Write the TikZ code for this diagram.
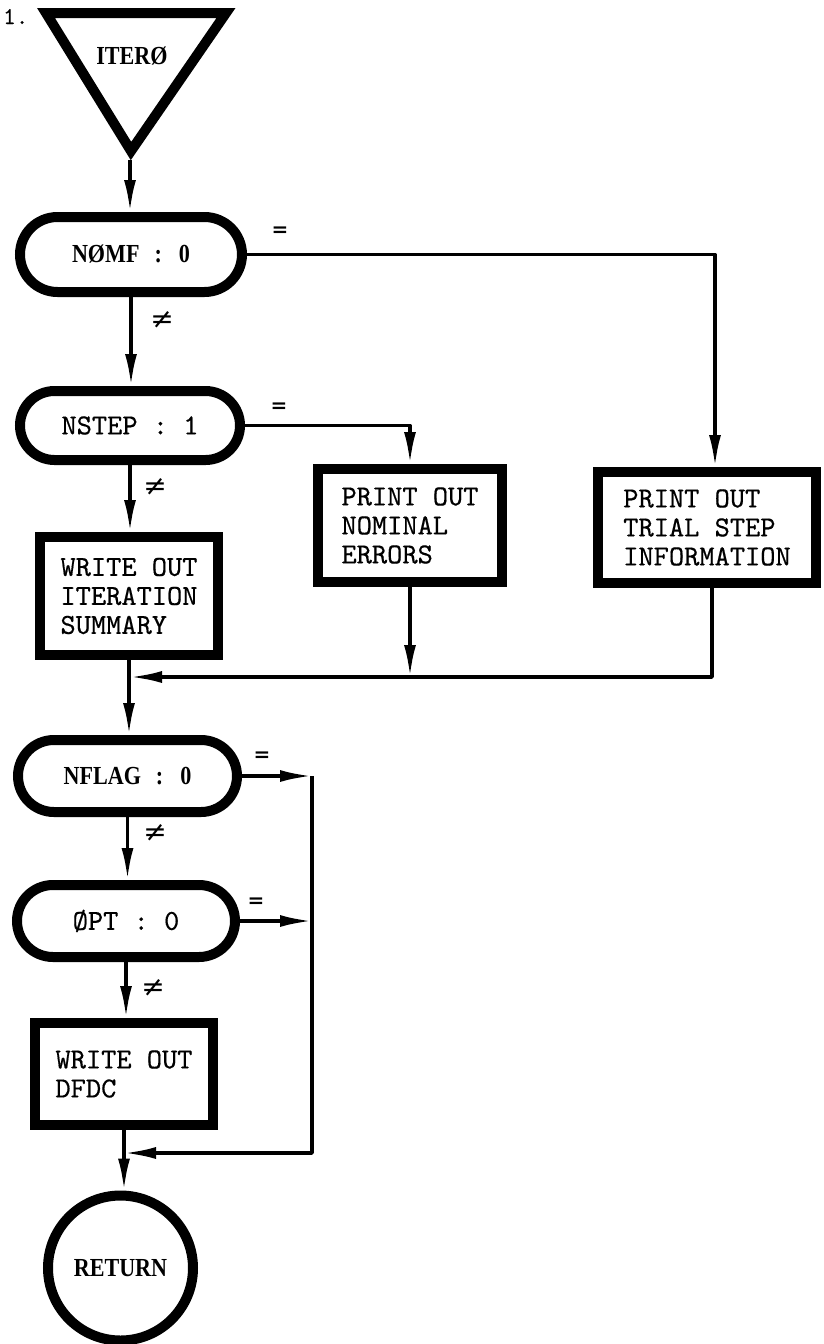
\documentclass[tikz,border=0pt]{standalone}
\usepackage{fontspec}
\usetikzlibrary{arrows.meta,shapes.misc}
\newfontfamily\serifx{Liberation Serif}[FakeStretch=0.85]
\newfontfamily\monox{lmmono10-regular.otf}[FakeBold=0.5]
\newfontfamily\symx{DejaVu Serif}
\begin{document}
\begin{tikzpicture}[x=1pt,y=-1pt,
  heavy/.style={draw, line width=10pt},
  serif/.style={font=\serifx\bfseries\fontsize{26}{29}\selectfont},
  mono/.style={font=\monox\fontsize{29}{29}\selectfont},
  pill/.style={heavy, rounded rectangle, inner sep=0pt},
  procbox/.style={heavy, rectangle, line join=miter, inner sep=0pt, align=left, mono},
  endcircle/.style={heavy, circle, inner sep=0pt, minimum size=145pt, serif},
  conn/.style={line width=3.5pt, line join=round, -{Latex[length=32pt,width=12pt]}},
  eqlabel/.style={font=\symx\bfseries\fontsize{20}{20}\selectfont, inner sep=0pt},
  nelabel/.style={font=\symx\fontsize{28}{28}\selectfont, inner sep=0pt}
]
\useasboundingbox (0,0) rectangle (823,1344);

% figure number in the corner
\node[font=\monox\fontsize{24}{24}\selectfont, anchor=base west, inner sep=0pt] (fignum) at (3,24) {1.};

% entry point
\draw[heavy, line join=miter] (46,13) -- (226,13) -- (131,151) -- cycle;
\node[serif] (iter) at (132,56) {ITERØ};
\coordinate (apex) at (130,160);

% decisions
\node[pill, serif, minimum width=222pt, minimum height=75pt] (nomf) at (131,254.5) {NØMF\hspace{15pt}:\hspace{17pt}0};
\node[pill, mono, minimum width=220pt, minimum height=69pt] (nstep) at (130,425.5) {NSTEP : 1};
\node[pill, serif, minimum width=219pt, minimum height=72pt] (nflag) at (127.5,776) {NFLAG\hspace{15pt}:\hspace{17pt}0};
\node[pill, mono, minimum width=218pt, minimum height=72pt] (opt) at (126,921) {ØPT : 0};

% processes
\node[procbox, minimum width=178pt, minimum height=118pt] (iters) at (129,596) {WRITE OUT\\ITERATION\\SUMMARY};
\node[procbox, minimum width=184pt, minimum height=113pt] (nominal) at (410,525.5) {PRINT OUT\\NOMINAL\\ERRORS};
\node[procbox, minimum width=218pt, minimum height=111pt] (trial) at (707,527.5) {PRINT OUT\\TRIAL STEP\\INFORMATION};
\node[procbox, minimum width=178pt, minimum height=102pt] (dfdc) at (124,1074) {WRITE OUT\\DFDC};

% exit
\node[endcircle] (ret) at (120.5,1268) {RETURN};

% routing points
\coordinate (j1) at (130,677);
\coordinate (j2) at (124,1153);
\coordinate (rail) at (312,776);
\coordinate (tin) at (715,0);
\coordinate (tout) at (712,0);

% connectors
\draw[conn] (apex) -- (apex |- nomf.north);
\draw[conn] (nomf.south) -- (nomf.south |- nstep.north);
\draw[conn] (nomf.east) -| (tin |- trial.north);
\draw[conn] (nstep.east) -| (nominal.north);
\draw[conn] (nstep.south) -- (nstep.south |- iters.north);
\draw[conn] (iters.south) -- (iters.south |- nflag.north);
\draw[conn] (nominal.south) -- (nominal.south |- j1);
\draw[conn] (tout |- trial.south) |- (j1);
\draw[conn] (nflag.east) -- (rail);
\draw[conn] (rail) |- (j2);
\draw[conn] (opt.east) -- (opt.east -| rail);
\draw[conn] (nflag.south) -- (nflag.south |- opt.north);
\draw[conn] (opt.south) -- (opt.south |- dfdc.north);
\draw[conn] (dfdc.south) -- (dfdc.south |- ret.north);

% branch labels
\node[eqlabel] (eq1) at (280,232) {=};
\node[nelabel] (ne1) at (162,320) {≠};
\node[eqlabel] (eq2) at (279,408) {=};
\node[nelabel] (ne2) at (155,487) {≠};
\node[eqlabel] (eq3) at (262,757) {=};
\node[nelabel] (ne3) at (155,833) {≠};
\node[eqlabel] (eq4) at (256,903) {=};
\node[nelabel] (ne4) at (153,988) {≠};
\end{tikzpicture}
\end{document}
